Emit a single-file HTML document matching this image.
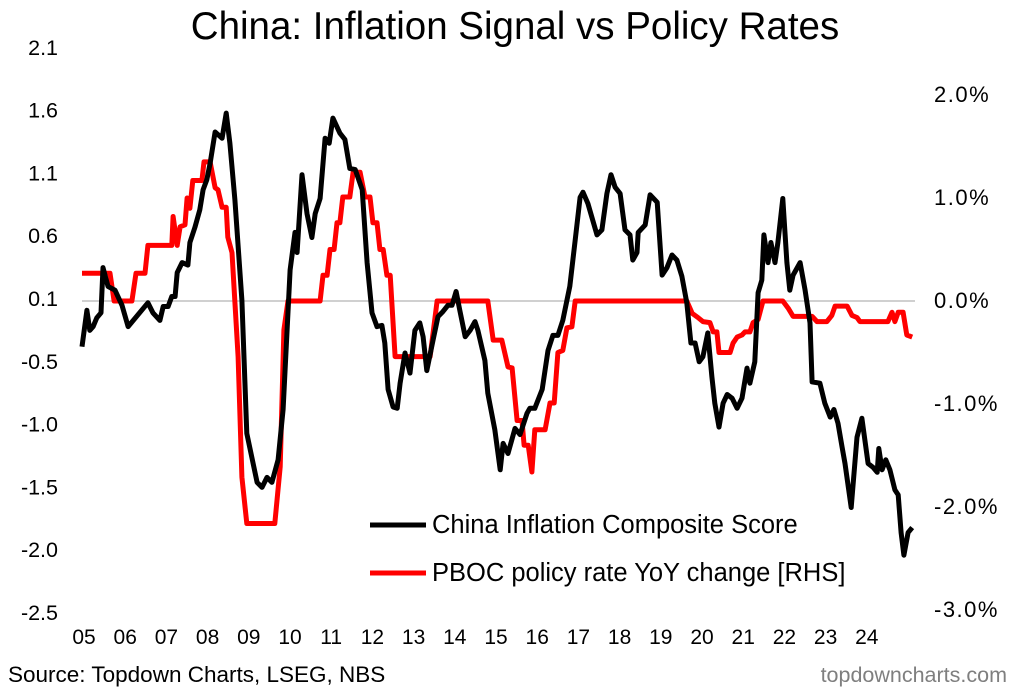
<!DOCTYPE html>
<html><head><meta charset="utf-8"><style>
body{margin:0;background:#fff;}
svg{display:block;font-family:"Liberation Sans",Arial,sans-serif;}
</style></head><body>
<svg id="chart" width="1015" height="690" viewBox="0 0 1015 690">
<text x="515" y="39" text-anchor="middle" font-size="38.5" fill="#000">China: Inflation Signal vs Policy Rates</text>
<line x1="82" y1="301" x2="915" y2="301" stroke="#d0d0d0" stroke-width="2"/>
<g id="leftAxis"></g>
<g id="rightAxis"></g>
<g id="xAxis"></g>
<g id="series"></g>
<g>
<line x1="370" y1="525" x2="426" y2="525" stroke="#000" stroke-width="5"/>
<text x="432" y="533" font-size="25.5">China Inflation Composite Score</text>
<line x1="370" y1="573" x2="426" y2="573" stroke="#ff0000" stroke-width="5"/>
<text x="432" y="581" font-size="25.5">PBOC policy rate YoY change [RHS]</text>
</g>
<text x="8" y="682" font-size="22.5">Source: Topdown Charts, LSEG, NBS</text>
<text x="1007" y="682" font-size="21.5" fill="#7f7f7f" text-anchor="end">topdowncharts.com</text>
</svg>
<script>
const leftTicks=[2.05,1.55,1.05,0.55,0.05,-0.45,-0.95,-1.45,-1.95,-2.45];
const leftTickLabels=["2.1","1.6","1.1","0.6","0.1","-0.5","-1.0","-1.5","-2.0","-2.5"];
const rightTicks=[2,1,0,-1,-2,-3];
const rightTickLabels=["2.0%","1.0%","0.0%","-1.0%","-2.0%","-3.0%"];
const yearTicks=[2005,2006,2007,2008,2009,2010,2011,2012,2013,2014,2015,2016,2017,2018,2019,2020,2021,2022,2023,2024];
const yearLabels=["05","06","07","08","09","10","11","12","13","14","15","16","17","18","19","20","21","22","23","24"];
const compDates=[2005.00,2005.12,2005.19,2005.27,2005.36,2005.46,2005.51,2005.63,2005.80,2005.97,2006.12,2006.60,2006.72,2006.89,2006.97,2007.09,2007.18,2007.26,2007.31,2007.43,2007.57,2007.62,2007.74,2007.86,2007.94,2008.03,2008.11,2008.23,2008.40,2008.50,2008.59,2008.71,2008.88,2009.00,2009.25,2009.37,2009.49,2009.61,2009.76,2009.88,2010.05,2010.17,2010.22,2010.34,2010.46,2010.58,2010.66,2010.78,2010.90,2011.00,2011.09,2011.26,2011.38,2011.50,2011.63,2011.80,2011.92,2012.04,2012.16,2012.28,2012.35,2012.43,2012.55,2012.65,2012.72,2012.84,2012.96,2013.08,2013.20,2013.28,2013.37,2013.52,2013.64,2013.76,2013.88,2013.98,2014.08,2014.17,2014.30,2014.42,2014.54,2014.61,2014.78,2014.85,2015.02,2015.15,2015.22,2015.34,2015.51,2015.63,2015.80,2015.87,2015.99,2016.17,2016.31,2016.43,2016.55,2016.67,2016.84,2016.97,2017.09,2017.16,2017.28,2017.50,2017.62,2017.74,2017.84,2017.94,2018.06,2018.18,2018.30,2018.37,2018.47,2018.50,2018.67,2018.79,2018.96,2019.08,2019.20,2019.32,2019.44,2019.56,2019.68,2019.78,2019.88,2019.98,2020.07,2020.19,2020.29,2020.36,2020.46,2020.56,2020.66,2020.78,2020.90,2021.02,2021.14,2021.21,2021.33,2021.41,2021.50,2021.55,2021.65,2021.72,2021.82,2021.89,2022.01,2022.11,2022.18,2022.26,2022.43,2022.55,2022.67,2022.72,2022.91,2023.03,2023.16,2023.25,2023.35,2023.45,2023.52,2023.67,2023.81,2023.93,2024.08,2024.20,2024.30,2024.34,2024.42,2024.51,2024.61,2024.73,2024.81,2024.88,2024.95,2025.05,2025.15];
const compValues=[-0.33,-0.04,-0.20,-0.17,-0.10,-0.06,0.30,0.15,0.12,0.00,-0.17,0.02,-0.06,-0.12,-0.01,-0.01,0.07,0.07,0.26,0.34,0.32,0.50,0.62,0.76,0.92,1.00,1.13,1.38,1.33,1.53,1.29,0.84,0.04,-1.02,-1.41,-1.45,-1.37,-1.41,-1.23,-0.83,0.28,0.58,0.42,1.04,0.73,0.54,0.73,0.85,1.33,1.29,1.49,1.37,1.32,1.09,1.08,0.92,0.34,-0.06,-0.17,-0.16,-0.30,-0.67,-0.81,-0.82,-0.62,-0.38,-0.54,-0.20,-0.14,-0.25,-0.52,-0.28,-0.09,-0.05,0.00,0.00,0.11,-0.04,-0.25,-0.20,-0.13,-0.20,-0.44,-0.70,-0.99,-1.31,-1.10,-1.18,-0.98,-1.03,-0.86,-0.82,-0.82,-0.67,-0.36,-0.24,-0.24,-0.12,0.15,0.52,0.86,0.90,0.81,0.56,0.60,0.89,1.04,0.94,0.89,0.60,0.56,0.36,0.42,0.58,0.64,0.88,0.82,0.24,0.30,0.40,0.36,0.23,0.02,-0.30,-0.30,-0.45,-0.41,-0.22,-0.57,-0.78,-0.97,-0.78,-0.71,-0.74,-0.82,-0.74,-0.50,-0.62,-0.45,0.10,0.20,0.56,0.34,0.50,0.34,0.50,0.85,0.34,0.12,0.24,0.34,0.12,-0.14,-0.61,-0.62,-0.78,-0.89,-0.83,-0.94,-1.13,-1.26,-1.61,-1.05,-0.90,-1.26,-1.29,-1.33,-1.14,-1.31,-1.23,-1.31,-1.47,-1.51,-1.81,-1.99,-1.81,-1.77];
const rateDates=[2005.00,2005.68,2005.78,2006.21,2006.31,2006.53,2006.60,2007.18,2007.21,2007.31,2007.38,2007.50,2007.55,2007.62,2007.69,2007.91,2007.96,2008.11,2008.23,2008.30,2008.40,2008.50,2008.54,2008.64,2008.79,2008.88,2009.00,2009.68,2009.81,2009.90,2010.00,2010.78,2010.85,2010.95,2011.02,2011.12,2011.19,2011.26,2011.33,2011.50,2011.58,2011.75,2011.87,2011.99,2012.06,2012.16,2012.23,2012.31,2012.40,2012.48,2012.60,2013.45,2013.62,2014.85,2014.98,2015.19,2015.34,2015.44,2015.56,2015.68,2015.73,2015.83,2015.92,2015.99,2016.24,2016.36,2016.46,2016.55,2016.67,2016.77,2016.89,2016.97,2019.68,2019.81,2019.95,2020.07,2020.24,2020.32,2020.41,2020.46,2020.73,2020.80,2020.90,2021.02,2021.09,2021.21,2021.29,2021.41,2021.53,2022.01,2022.14,2022.26,2022.72,2022.84,2023.08,2023.20,2023.28,2023.57,2023.69,2023.81,2023.88,2024.56,2024.66,2024.73,2024.81,2024.93,2025.02,2025.15];
const rateValues=[0.27,0.27,0,0,0.27,0.27,0.54,0.54,0.82,0.54,0.72,0.74,1.00,0.90,1.17,1.17,1.35,1.35,1.10,1.08,0.91,0.91,0.62,0.47,-0.54,-1.71,-2.16,-2.16,-1.61,-0.28,0,0,0.25,0.25,0.50,0.50,0.76,0.76,1.01,1.01,1.25,1.25,1.01,1.01,0.76,0.76,0.50,0.50,0.25,0.25,-0.54,-0.54,0,0,-0.38,-0.38,-0.64,-0.65,-1.16,-1.16,-1.40,-1.40,-1.66,-1.25,-1.25,-0.99,-0.99,-0.50,-0.48,-0.26,-0.25,0,0,-0.12,-0.16,-0.20,-0.21,-0.30,-0.30,-0.50,-0.50,-0.41,-0.35,-0.33,-0.30,-0.30,-0.21,-0.18,0,0,-0.07,-0.15,-0.15,-0.20,-0.20,-0.14,-0.05,-0.05,-0.14,-0.16,-0.20,-0.20,-0.11,-0.20,-0.11,-0.11,-0.33,-0.35];

const NS="http://www.w3.org/2000/svg";
function xScale(d){return 82+(d-2005)*41.2;}
function yLeft(v){return 299-(v-0.05)*125.6;}
function yRight(p){return 301-p*103;}
function mk(tag,attrs,parent,text){const e=document.createElementNS(NS,tag);for(const k in attrs)e.setAttribute(k,attrs[k]);if(text!==undefined)e.textContent=text;parent.appendChild(e);return e;}

const la=document.getElementById('leftAxis');
leftTicks.forEach((v,i)=>{
  const t=mk('text',{x:58,y:yLeft(v)+7,'text-anchor':'end','font-size':21.5},la,leftTickLabels[i]);
  
  
});
const ra=document.getElementById('rightAxis');
rightTicks.forEach((v,i)=>{
  const t=mk('text',{x:934,y:yRight(v)+7,'font-size':22,'letter-spacing':1.5},ra,rightTickLabels[i]);
  
  
});
const xa=document.getElementById('xAxis');
yearTicks.forEach((d,i)=>{
  const t=mk('text',{x:xScale(d)+2,y:644,'text-anchor':'middle','font-size':21},xa,yearLabels[i]);
  
  
});
const sg=document.getElementById('series');
const rp=mk('polyline',{points:rateDates.map((d,i)=>xScale(d).toFixed(1)+','+yRight(rateValues[i]).toFixed(1)).join(' '),fill:'none',stroke:'#ff0000','stroke-width':5,'stroke-linejoin':'round'},sg);


const cp=mk('polyline',{points:compDates.map((d,i)=>xScale(d).toFixed(1)+','+yLeft(compValues[i]).toFixed(1)).join(' '),fill:'none',stroke:'#000','stroke-width':5,'stroke-linejoin':'round'},sg);


</script>
</body></html>
